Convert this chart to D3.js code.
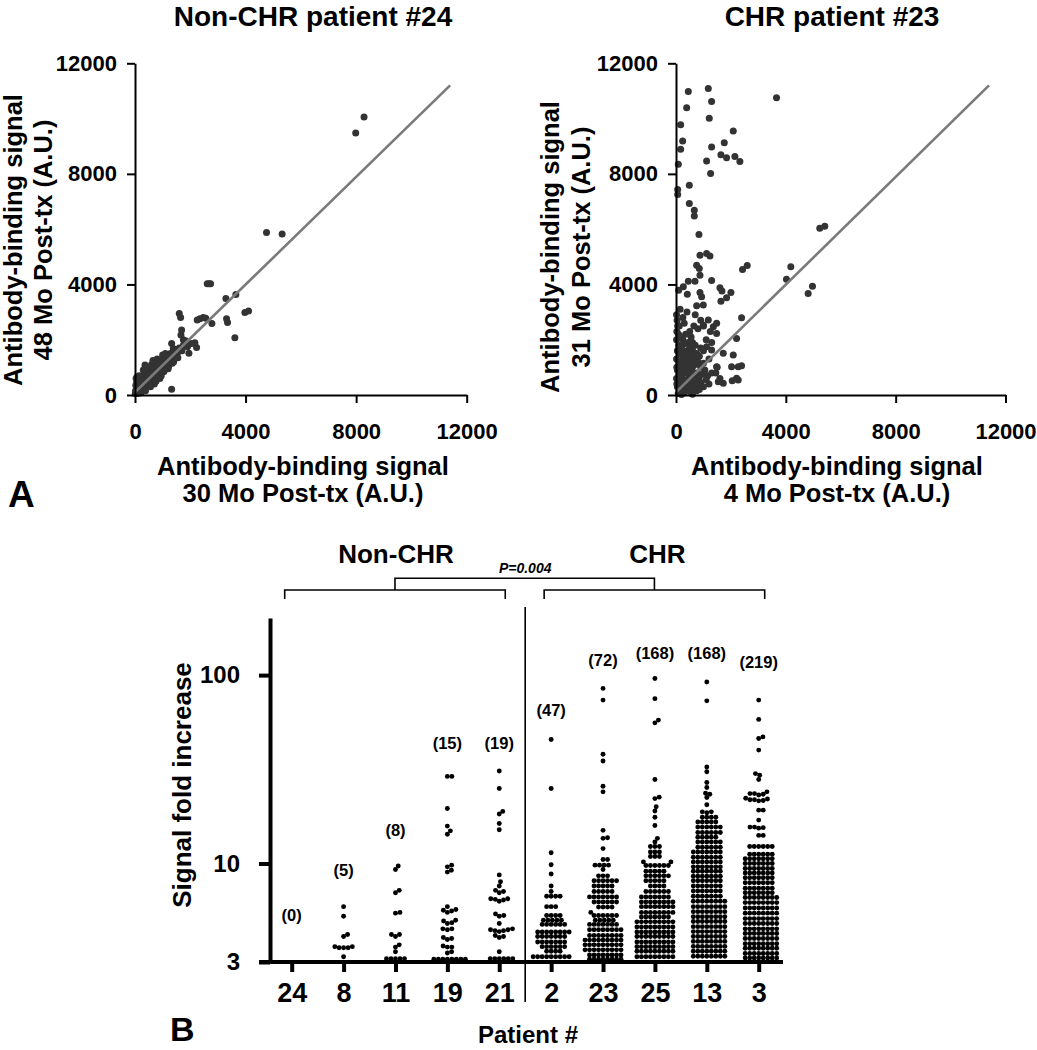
<!DOCTYPE html>
<html><head><meta charset="utf-8">
<script src="https://cdn.jsdelivr.net/npm/d3@7"></script>
<style>
body{margin:0;background:#fff}
svg{display:block;background:#fff}
text{font-family:"Liberation Sans",Arial,Helvetica,sans-serif;font-weight:bold;fill:#000}
</style>
</head><body>
<svg id="chart" width="1037" height="1050"></svg>
<script>
// ---------------- DATA ----------------
const scatterTicks = [0, 4000, 8000, 12000];
const diagLine = [[0, 100], [11400, 11200]];

// Panel A left: Non-CHR patient #24 (x: 30 Mo, y: 48 Mo)
const nonChrPoints = [
[8286,10055],[7985,9478],[4758,5878],[5323,5828],[2613,4022],[2680,4022],[2734,4022],[3288,3493],[3649,3637],
[3974,2988],[4107,3035],[3613,2071],[3312,2758],[3348,2626],[2782,2590],[2469,2806],[2349,2758],[2252,2710],
[2560,2780],[1601,2951],[1650,2806],[1686,2349],[1662,2168],[1951,1506],[2168,1891],[2228,1722],[2048,1867],
[1325,1867],[1385,1686],[1325,205],[361,1084],[1750,2000],[1800,1800],[1550,1550],[1900,1750],
[30,350],[60,450],[80,250],[100,500],[120,150],[150,380],[180,600],[200,300],[220,80],[250,480],[280,700],
[300,350],[320,200],[350,550],[380,800],[400,420],[420,300],[450,650],[480,900],[500,500],[520,350],[550,750],
[580,1000],[600,600],[620,450],[650,850],[680,1050],[700,700],[720,550],[750,950],[780,1150],[800,800],[820,650],
[850,1050],[880,1250],[900,900],[920,750],[950,1150],[980,1300],[1000,1000],[1020,850],[1050,1200],[1080,1350],
[1100,1100],[1120,950],[1150,1300],[1180,1400],[1200,1200],[1220,1050],[1250,1400],[1280,1500],[1300,1300],
[1350,1150],[1380,1550],[1420,1400],[1450,1650],[1500,1500],[1550,1350],[1600,1700],[1700,1600],[1750,1800],
[1850,1950],[100,50],[50,100],[200,600],[150,700],[250,150],[350,250],[450,350],[10,50],[20,150],[40,600],
[70,650],[600,1100],[800,1300],[700,400],[900,600],[1050,850],[1200,950],[300,900],[500,1000],[400,1000],
[650,1250],[1000,1450],[1100,1500],[950,700],[1400,1200],[160,80],[380,150],[560,300],[760,500]
];

// Panel A right: CHR patient #23 (x: 4 Mo, y: 31 Mo)
const chrPoints = [
[448,10984],[1176,11092],[388,10394],[1297,10622],[1212,10008],[170,9780],[242,9188],[170,8888],[85,8346],
[2085,9550],[1758,9130],[1297,8972],[1636,8696],[1842,8587],[2145,8624],[2327,8444],[1115,8466],[1261,8010],
[3661,10756],[61,7432],[61,7251],[485,7588],[485,6926],[667,6684],[667,6478],[836,5806],[873,5058],[1115,5119],
[1236,5033],[752,4697],[848,4577],[873,4336],[448,4119],[691,4119],[1297,4144],[2424,4541],[2594,4686],
[97,3794],[267,3914],[412,3649],[873,3710],[933,3552],[752,3227],[994,3252],[1600,3878],[1673,3758],[2000,3710],
[1842,3517],[1636,3396],[4182,4637],[4024,4191],[5236,6034],[5418,6106],[4812,3674],[4970,3938],[2388,2795],
[1721,1506],[2085,1445],[2266,1024],[2388,1060],[2024,1024],[2206,602],[2266,542],[2048,518],[1721,421],
[1539,482],[2206,2047],[1479,2228],[1358,2469],[1480,2600],[1176,2710],[994,2530],[1115,1746],[1297,1626],[1479,1024],
[20,2900],[40,2700],[60,2500],[30,2300],[90,2200],[20,2000],[150,2100],[250,2000],[350,2200],[450,1900],[550,2100],
[100,1800],[200,1700],[300,1850],[400,1600],[500,1750],[600,1650],[700,1800],[50,1600],[150,1500],[250,1400],
[350,1550],[450,1350],[550,1450],[650,1300],[750,1500],[850,1400],[20,1300],[100,1200],[200,1100],[300,1250],
[400,1050],[500,1150],[600,1000],[700,1100],[800,1200],[900,1000],[1000,1150],[50,900],[150,950],[250,800],
[350,900],[450,750],[550,850],[650,700],[750,800],[850,650],[950,750],[1050,900],[1150,700],[20,600],[100,500],
[200,650],[300,550],[400,450],[500,600],[600,400],[700,500],[800,350],[900,450],[1000,300],[1100,550],[1200,400],
[50,300],[150,200],[250,350],[350,150],[450,250],[550,100],[650,250],[750,150],[850,200],[80,50],[200,20],[300,80],
[600,30],[1300,800],[1200,1300],[1000,1600],[800,2400],[900,2700],[650,2500],[300,2600],[150,3100],[400,3000],
[700,2900],[1100,2000],[1300,1900],[1250,2300],[1000,2500],[1500,1000],[1450,800],[1600,600],[30,1000],[30,400],
[120,2500],[250,2800],[500,2300],[100,700],[700,1400],[900,1700],[400,1300],[600,1900]
];

// Panel B
const patients = ["24","8","11","19","21","2","23","25","13","3"];
const countLabels = ["(0)","(5)","(8)","(15)","(19)","(47)","(72)","(168)","(168)","(219)"];
const countLabelLevel = [4.94, 8.56, 13.96, 40.5, 40.5, 60.6, 111.6, 121.6, 121.6, 109];
const foldTicks = [3, 10, 100];

const fold24 = [];
const fold8 = [5.9,5.25,4.2,4.1,3.62,3.57,3.57,3.57,3.62,3.2];
const fold11 = [9.7,9.3,7.2,7.0,5.5,5.45,4.2,4.1,4.2,3.7,3.6,3.4,3.12,3.12,3.12,3.12,3.12];
const fold19 = [29,29,19.6,15.8,14.9,14.3,9.8,9.6,9.2,9.0,5.9,5.7,5.65,5.6,5.5,5.0,4.95,4.85,4.8,4.5,4.5,4.45,
  4.05,4.0,3.95,3.65,3.6,3.6,3.4,3.35,3.1,3.1,3.1,3.1,3.1,3.1,3.1,3.1];
const fold21 = [31,25,18.9,18.3,16.3,15.1,8.7,8.0,7.6,7.2,7.1,7.0,6.5,6.5,6.45,6.4,6.3,5.4,5.3,5.25,4.8,4.5,4.45,
  4.45,4.4,4.4,4.35,4.15,4.1,4.05,3.4,3.12,3.12,3.12,3.12,3.12,3.12];
const fold2 = [45.5,25,11.4,9.85,8.8,7.6,7.1,6.7,6.7,6.7,6.7,5.9,5.9,5.9,5.3,5.3,5.3,5.3,5.0,5.0,5.0,5.0,5.0,
  4.75,4.75,4.75,4.75,4.75,4.75,4.33,4.33,4.33,4.33,4.33,4.33,4.33,4.33,4.1,4.1,4.1,4.1,4.1,4.1,4.1,
  3.83,3.83,3.83,3.83,3.83,3.83,3.83,3.62,3.62,3.62,3.62,3.62,3.62,3.42,3.42,3.42,3.42,
  3.2,3.2,3.2,3.2,3.2,3.2,3.2,3.2,3.2];
const fold23 = [85,73.7,38,35,25.7,24,15,13.7,13.6,12,10.5,10.5,9.8,9.8,9.8,9.8,9.3,8.6,8.6,8.6,
  8.1,8.1,8.1,8.1,8.1,8.1,7.6,7.6,7.6,7.6,7.6,7.1,7.1,7.1,7.1,7.1,6.65,6.65,6.65,6.65,6.65,6.65,6.65,
  6.25,6.25,6.25,6.25,6.25,6.25,5.87,5.87,5.87,5.87,5.5,5.3,5.3,5.3,5.3,5.3,5.3,5.0,5.0,5.0,5.0,5.0,
  4.75,4.75,4.75,4.75,4.75,4.75,4.75,4.45,4.45,4.45,4.45,4.45,4.45,4.45,4.45,
  4.15,4.15,4.15,4.15,4.15,4.15,4.15,4.15,3.92,3.92,3.92,3.92,3.92,3.92,3.92,3.92,3.92,
  3.7,3.7,3.7,3.7,3.7,3.7,3.7,3.7,3.7,3.48,3.48,3.48,3.48,3.48,3.48,3.48,3.48,3.48,
  3.27,3.27,3.27,3.27,3.27,3.27,3.27,3.27,3.1,3.1,3.1,3.1,3.1,3.1,3.1,3.1];
const fold25 = [96,75,57.7,55.8,27.9,22.5,22.1,20,19,17.6,15.9,13.6,13.0,12.3,12.3,12.3,11.5,11.5,11.5,
  10.9,10.9,10.9,10.2,10.2,9.75,9.75,9.75,9.75,9.75,9.75,9.1,9.1,9.1,9.1,9.1,8.6,8.6,8.6,8.6,8.6,8.6,
  8.1,8.1,8.1,8.1,8.1,7.6,7.6,7.6,7.6,7.1,7.1,7.1,7.1,7.1,7.1,6.65,6.65,6.65,6.65,6.65,6.65,6.65,
  6.25,6.25,6.25,6.25,6.25,6.25,6.25,6.25,5.9,5.9,5.9,5.9,5.9,5.9,5.9,5.9,5.5,5.5,5.5,5.5,5.5,5.5,5.5,5.5,
  5.2,5.2,5.2,5.2,5.2,5.2,5.2,4.9,4.9,4.9,4.9,4.9,4.9,4.9,4.9,4.9,4.6,4.6,4.6,4.6,4.6,4.6,4.6,4.6,4.6,
  4.33,4.33,4.33,4.33,4.33,4.33,4.33,4.33,4.33,4.1,4.1,4.1,4.1,4.1,4.1,4.1,4.1,4.1,
  3.83,3.83,3.83,3.83,3.83,3.83,3.83,3.83,3.83,3.62,3.62,3.62,3.62,3.62,3.62,3.62,3.62,3.62,
  3.42,3.42,3.42,3.42,3.42,3.42,3.42,3.42,3.42,3.2,3.2,3.2,3.2,3.2,3.2,3.2,3.2,3.2];
const fold13 = [92,73,32.5,30.7,26.9,25.3,23.6,23.3,22.4,20.5,18.8,18.8,18.6,17.6,17.6,17.6,17.6,
  16.6,16.6,16.6,16.6,16.6,15.6,15.6,15.6,15.6,15.6,15.6,14.6,14.6,14.6,14.6,14.6,14.6,13.8,13.8,13.8,13.8,13.8,
  13.0,13.0,13.0,13.0,13.0,13.0,12.2,12.2,12.2,12.2,12.2,12.2,11.5,11.5,11.5,11.5,11.5,11.5,11.5,
  10.8,10.8,10.8,10.8,10.8,10.8,10.8,10.2,10.2,10.2,10.2,10.2,10.2,10.2,9.6,9.6,9.6,9.6,9.6,9.6,9.6,
  9.1,9.1,9.1,9.1,9.1,9.1,9.1,8.55,8.55,8.55,8.55,8.55,8.55,8.55,8.1,8.1,8.1,8.1,8.1,8.1,8.1,
  7.6,7.6,7.6,7.6,7.6,7.6,7.6,7.15,7.15,7.15,7.15,7.15,7.15,7.15,6.7,6.7,6.7,6.7,6.7,6.7,6.7,
  6.3,6.3,6.3,6.3,6.3,6.3,6.3,6.3,5.9,5.9,5.9,5.9,5.9,5.9,5.9,5.9,5.55,5.55,5.55,5.55,5.55,5.55,5.55,5.55,
  5.22,5.22,5.22,5.22,5.22,5.22,5.22,5.22,4.92,4.92,4.92,4.92,4.92,4.92,4.92,4.92,
  4.62,4.62,4.62,4.62,4.62,4.62,4.62,4.62,4.35,4.35,4.35,4.35,4.35,4.35,4.35,4.35,
  4.1,4.1,4.1,4.1,4.1,4.1,4.1,4.1,3.86,3.86,3.86,3.86,3.86,3.86,3.86,3.86,
  3.63,3.63,3.63,3.63,3.63,3.63,3.63,3.63,3.42,3.42,3.42,3.42,3.42,3.42,3.42,3.42,
  3.22,3.22,3.22,3.22,3.22,3.22,3.22,3.22];
const fold3 = [73.7,58.2,47,46.1,40,30,29.4,27.9,24,23.5,23.5,23.3,23.1,22.2,22,21.8,21.8,21.6,21.5,19.2,19.2,17,
  15.6,15.4,15.6,15.5,14.1,14.1,12.3,12.3,12.3,12.3,12.3,12.3,11.2,11.2,11.2,11.2,11.2,11.2,
  10.6,10.6,10.6,10.6,10.6,10.6,10.6,10,10,10,10,10,10,10,9.4,9.4,9.4,9.4,9.4,9.4,9.4,
  8.9,8.9,8.9,8.9,8.9,8.9,8.9,8.4,8.4,8.4,8.4,8.4,8.4,8.4,7.9,7.9,7.9,7.9,7.9,7.9,7.9,
  7.4,7.4,7.4,7.4,7.4,7.4,7.4,7.0,7.0,7.0,7.0,7.0,7.0,7.0,6.6,6.6,6.6,6.6,6.6,6.6,6.6,6.6,
  6.2,6.2,6.2,6.2,6.2,6.2,6.2,6.2,5.8,5.8,5.8,5.8,5.8,5.8,5.8,5.8,5.45,5.45,5.45,5.45,5.45,5.45,5.45,5.45,
  5.1,5.1,5.1,5.1,5.1,5.1,5.1,5.1,4.8,4.8,4.8,4.8,4.8,4.8,4.8,4.8,4.5,4.5,4.5,4.5,4.5,4.5,4.5,4.5,
  4.25,4.25,4.25,4.25,4.25,4.25,4.25,4.25,4.0,4.0,4.0,4.0,4.0,4.0,4.0,4.0,
  3.75,3.75,3.75,3.75,3.75,3.75,3.75,3.75,3.55,3.55,3.55,3.55,3.55,3.55,3.55,3.55,
  3.33,3.33,3.33,3.33,3.33,3.33,3.33,3.33,3.15,3.15,3.15,3.15,3.15,3.15,3.15,3.15];
const foldByPatient = [fold24, fold8, fold11, fold19, fold21, fold2, fold23, fold25, fold13, fold3];

// ---------------- DRAWING ----------------
const svg = d3.select("#chart");

function styleAxis(g, fontSize, strokeW) {
  g.attr("font-family", null).attr("font-size", null);
  g.selectAll("text").attr("font-size", fontSize).attr("fill", "#000");
  g.selectAll("line, path").attr("stroke", "#000").attr("stroke-width", strokeW);
}

function scatterPanel(o) {
  const x = d3.scaleLinear().domain([0, 12000]).range([o.left, o.right]);
  const y = d3.scaleLinear().domain([0, 12000]).range([395, 63.3]);
  const g = svg.append("g");
  g.append("g").selectAll("circle").data(o.points).join("circle")
    .attr("cx", d => x(d[0])).attr("cy", d => y(d[1])).attr("r", 3.5).attr("fill", "#333");
  g.append("path").datum(diagLine)
    .attr("d", d3.line().x(d => x(d[0])).y(d => y(d[1])))
    .attr("fill", "none").attr("stroke", "#7a7a7a").attr("stroke-width", 2.6);
  const ax = g.append("g").attr("transform", "translate(0,395)")
    .call(d3.axisBottom(x).tickValues(scatterTicks).tickFormat(d3.format("d"))
      .tickSize(8).tickSizeOuter(0).tickPadding(20));
  styleAxis(ax, 22, 2);
  const ay = g.append("g").attr("transform", `translate(${o.left},0)`)
    .call(d3.axisLeft(y).tickValues(scatterTicks).tickFormat(d3.format("d"))
      .tickSize(8).tickSizeOuter(0).tickPadding(10));
  styleAxis(ay, 22, 2);
  g.append("text").attr("x", o.titleX).attr("y", 26).attr("text-anchor", "middle")
    .attr("font-size", 28).text(o.title);
  const xt = g.append("text").attr("text-anchor", "middle").attr("font-size", 25.5);
  xt.append("tspan").attr("x", o.xTitleX).attr("y", 475).text(o.xTitle[0]);
  xt.append("tspan").attr("x", o.xTitleX).attr("y", 502).text(o.xTitle[1]);
  const yt = g.append("text").attr("transform", `translate(${o.yTitleX},${o.yTitleY}) rotate(-90)`)
    .attr("text-anchor", "middle").attr("font-size", 25.5);
  yt.append("tspan").attr("x", 0).attr("y", 0).text(o.yTitle[0]);
  yt.append("tspan").attr("x", 0).attr("y", 30.5).text(o.yTitle[1]);
}

scatterPanel({
  points: nonChrPoints, left: 135, right: 466.7, title: "Non-CHR patient #24", titleX: 313,
  xTitle: ["Antibody-binding signal", "30 Mo Post-tx (A.U.)"], xTitleX: 303,
  yTitle: ["Antibody-binding signal", "48 Mo Post-tx (A.U.)"], yTitleX: 21.5, yTitleY: 240
});
scatterPanel({
  points: chrPoints, left: 676, right: 1005.5, title: "CHR patient #23", titleX: 832,
  xTitle: ["Antibody-binding signal", "4 Mo Post-tx (A.U.)"], xTitleX: 837,
  yTitle: ["Antibody-binding signal", "31 Mo Post-tx (A.U.)"], yTitleX: 559, yTitleY: 247
});

svg.append("text").attr("x", 8).attr("y", 507).attr("font-size", 37).text("A");

// ---- Panel B ----
const xB = d3.scalePoint().domain(patients).range([291.7, 758.7]);
const yB = d3.scaleLog().domain([3, 201]).range([962, 618]);
const gB = svg.append("g");

function swarm(values, r) {
  const d = 2 * r - 0.55;
  const pts = values.map(v => ({ v, y: yB(v) })).sort((a, b) => b.y - a.y);
  const placed = [];
  for (const p of pts) {
    const near = placed.filter(q => Math.abs(q.y - p.y) < d);
    let off = 0;
    for (let k = 0; k < 600; k++) {
      const o = (k % 2 === 1 ? 1 : -1) * Math.ceil(k / 2) * 0.25;
      if (near.every(q => (q.dx - o) ** 2 + (q.y - p.y) ** 2 >= d * d)) { off = o; break; }
    }
    p.dx = off;
    placed.push(p);
  }
  return placed;
}

patients.forEach((p, i) => {
  const pts = swarm(foldByPatient[i], 2.45);
  gB.append("g").selectAll("circle").data(pts).join("circle")
    .attr("cx", d => xB(p) + d.dx).attr("cy", d => d.y).attr("r", 2.45).attr("fill", "#000");
});

// count labels
gB.append("g").selectAll("text").data(patients).join("text")
  .attr("x", d => xB(d)).attr("y", (d, i) => yB(countLabelLevel[i]))
  .attr("text-anchor", "middle").attr("font-size", 16.5).text((d, i) => countLabels[i]);

// axes
const axY = gB.append("g").attr("transform", "translate(270,0)")
  .call(d3.axisLeft(yB).tickValues(foldTicks).tickFormat(d3.format("d"))
    .tickSize(11).tickSizeOuter(0).tickPadding(19));
styleAxis(axY, 24, 4);
const axX = gB.append("g").attr("transform", "translate(0,962)")
  .call(d3.axisBottom(xB).tickSize(10).tickSizeOuter(0).tickPadding(11));
styleAxis(axX, 27, 4);
axX.select(".domain").remove();
gB.append("line").attr("x1", 259).attr("x2", 783).attr("y1", 962).attr("y2", 962)
  .attr("stroke", "#000").attr("stroke-width", 4);

// divider between groups
const divX = (xB("21") + xB("2")) / 2;
gB.append("line").attr("x1", divX).attr("x2", divX).attr("y1", 607).attr("y2", 1002)
  .attr("stroke", "#000").attr("stroke-width", 1.6);

// brackets
const bL = [xB("24") - 7, xB("21") + 6], bR = [xB("2") - 7, xB("3") + 6];
const cL = (bL[0] + bL[1]) / 2, cR = (bR[0] + bR[1]) / 2;
const br = d3.path();
br.moveTo(bL[0], 599); br.lineTo(bL[0], 590); br.lineTo(bL[1], 590); br.lineTo(bL[1], 599);
br.moveTo(bR[0], 599); br.lineTo(bR[0], 590); br.lineTo(bR[1], 590); br.lineTo(bR[1], 599);
br.moveTo(cL, 590); br.lineTo(cL, 578.3); br.lineTo(cR, 578.3); br.lineTo(cR, 590);
gB.append("path").attr("d", br.toString()).attr("fill", "none").attr("stroke", "#000").attr("stroke-width", 1.6);

gB.append("text").attr("x", divX).attr("y", 573).attr("text-anchor", "middle")
  .attr("font-size", 14).attr("font-style", "italic").text("P=0.004");
gB.append("text").attr("x", cL + 1).attr("y", 563).attr("text-anchor", "middle").attr("font-size", 26).text("Non-CHR");
gB.append("text").attr("x", cR + 3).attr("y", 563).attr("text-anchor", "middle").attr("font-size", 26).text("CHR");

gB.append("text").attr("transform", "translate(191,785) rotate(-90)").attr("text-anchor", "middle")
  .attr("font-size", 26).text("Signal fold increase");
gB.append("text").attr("x", 528).attr("y", 1043).attr("text-anchor", "middle").attr("font-size", 24).text("Patient #");
svg.append("text").attr("x", 170).attr("y", 1041).attr("font-size", 34).text("B");
</script>
</body></html>
